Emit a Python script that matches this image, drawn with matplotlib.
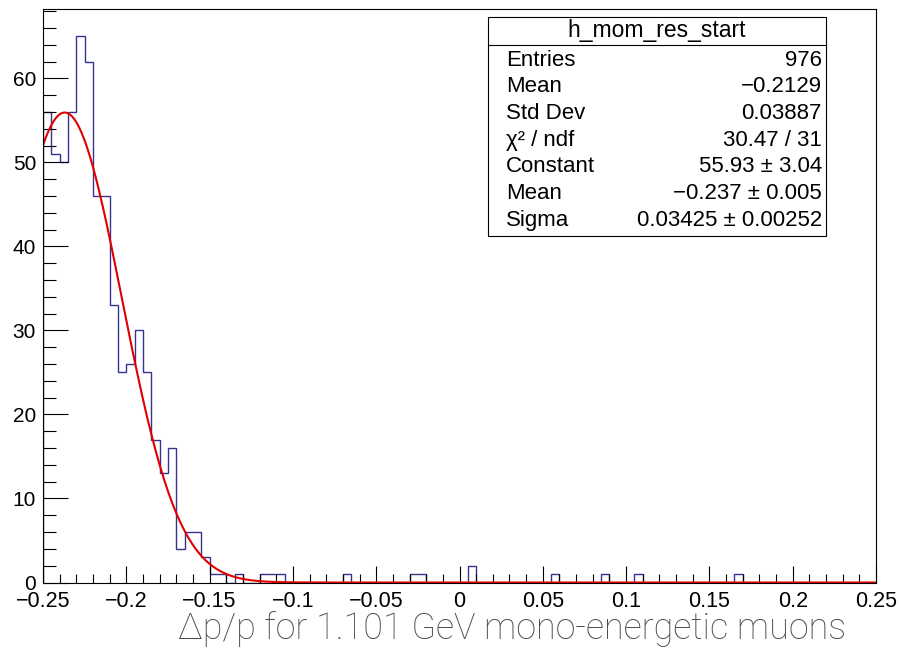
import numpy as np
import matplotlib
matplotlib.use("Agg")
import matplotlib.pyplot as plt
from matplotlib.patches import Rectangle
from matplotlib.ticker import MultipleLocator, FuncFormatter

# histogram h_mom_res_start: 100 bins of 0.005 from -0.25 to 0.25
x_lo, x_hi, n_bins = -0.25, 0.25, 100
counts = [56, 51, 50, 56, 65, 62, 46, 46, 33, 25,
          26, 30, 25, 17, 13, 16, 4, 6, 6, 3,
          1, 1, 0, 1, 0, 0, 1, 1, 1, 0,
          0, 0, 0, 0, 0, 0, 1, 0, 0, 0,
          0, 0, 0, 0, 1, 1, 0, 0, 0, 0,
          0, 2, 0, 0, 0, 0, 0, 0, 0, 0,
          0, 1, 0, 0, 0, 0, 0, 1, 0, 0,
          0, 1, 0, 0, 0, 0, 0, 0, 0, 0,
          0, 0, 0, 1, 0, 0, 0, 0, 0, 0,
          0, 0, 0, 0, 0, 0, 0, 0, 0, 0]

# gaussian fit parameters
g_const = 55.93
g_mean = -0.237
g_sigma = 0.03425

stat_title = "h_mom_res_start"
stat_names = ["Entries", "Mean", "Std Dev", "\u03c7\u00b2 / ndf", "Constant", "Mean", "Sigma"]
stat_values = ["976", "\u22120.2129", "0.03887", "30.47 / 31",
               "55.93 \u00b1 3.04", "\u22120.237 \u00b1 0.005", "0.03425 \u00b1 0.00252"]

xlabel = "\u0394p/p for 1.101 GeV mono-energetic muons"

W, H = 902, 664
fig = plt.figure(figsize=(W / 100, H / 100), dpi=100)
ax = fig.add_axes([43 / W, (H - 582.5) / H, 833 / W, 573.5 / H])

edges = np.linspace(x_lo, x_hi, n_bins + 1)
ax.stairs(counts, edges, color="#34348f", linewidth=1.0)

xf = np.linspace(x_lo, x_hi, 600)
yf = g_const * np.exp(-0.5 * ((xf - g_mean) / g_sigma) ** 2)
ax.plot(xf, yf, color="#e00000", linewidth=1.5)

ax.set_xlim(x_lo, x_hi)
ax.set_ylim(0, 1.05 * max(counts))

font = "Liberation Sans"
ax.xaxis.set_major_locator(MultipleLocator(0.05))
ax.xaxis.set_minor_locator(MultipleLocator(0.01))
ax.yaxis.set_major_locator(MultipleLocator(10))
ax.yaxis.set_minor_locator(MultipleLocator(2))


def fmt(v, pos):
    s = f"{v:g}"
    if abs(v) < 1e-9:
        s = "0"
    return s.replace("-", "\u2212")


ax.xaxis.set_major_formatter(FuncFormatter(fmt))
ax.yaxis.set_major_formatter(FuncFormatter(fmt))
ax.tick_params(axis="x", which="major", direction="in", length=12.5, width=0.8, pad=6,
               labelsize=15.5, top=False)
ax.tick_params(axis="x", which="minor", direction="in", length=6.5, width=0.8, top=False)
ax.tick_params(axis="y", which="major", direction="in", length=18, width=0.8, pad=5,
               labelsize=15, right=False)
ax.tick_params(axis="y", which="minor", direction="in", length=9, width=0.8, right=False)
for lab in ax.get_xticklabels() + ax.get_yticklabels():
    lab.set_family(font)
for sp in ax.spines.values():
    sp.set_linewidth(0.8)

# stats box
bx0, bx1, by0, by1 = 488, 826, 17, 236
fig.add_artist(Rectangle((bx0 / W, 1 - by1 / H), (bx1 - bx0) / W, (by1 - by0) / H,
                         transform=fig.transFigure, facecolor="white",
                         edgecolor="black", linewidth=0.8))
fig.add_artist(plt.Line2D([bx0 / W, bx1 / W], [1 - 44.5 / H, 1 - 44.5 / H],
                          transform=fig.transFigure, color="black", linewidth=0.8))
fig.text((bx0 + bx1) / 2 / W, 1 - 31 / H, stat_title, ha="center", va="center",
         fontsize=16.5, family=font)
row_y = 60
for name, val in zip(stat_names, stat_values):
    fig.text(506 / W, 1 - row_y / H, name, ha="left", va="center", fontsize=16, family=font)
    fig.text(822 / W, 1 - row_y / H, val, ha="right", va="center", fontsize=16, family=font)
    row_y += 26.7

fig.text(512 / W, 1 - 629 / H, xlabel, ha="center", va="center", fontsize=25.8,
         family="Roboto", fontweight="light", color="#4a4a4a")

fig.savefig("out.png", dpi=100)
